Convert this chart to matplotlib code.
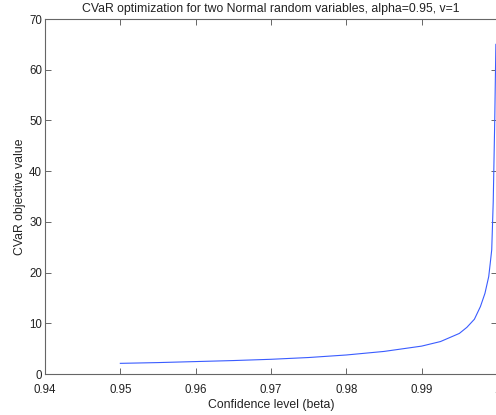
import numpy as np
import matplotlib
matplotlib.use("Agg")
import matplotlib.pyplot as plt

# values
beta = [0.95, 0.955, 0.96, 0.965, 0.97, 0.975, 0.98, 0.985, 0.99, 0.9925,
        0.995, 0.996, 0.997, 0.9978, 0.9984, 0.9989, 0.9991, 0.9993,
        0.9995, 0.9997, 0.99985]
cvar = [2.1, 2.25, 2.45, 2.65, 2.9, 3.25, 3.75, 4.45, 5.5, 6.4,
        8.0, 9.2, 10.8, 13.3, 15.9, 19.2, 21.8, 24.5,
        34.0, 50.0, 65.0]
xticks = [0.94, 0.95, 0.96, 0.97, 0.98, 0.99, 1.0]
xticklabels = ["0.94", "0.95", "0.96", "0.97", "0.98", "0.99", "1"]
yticks = [0, 10, 20, 30, 40, 50, 60, 70]

plt.rcParams["font.family"] = ["Liberation Sans", "DejaVu Sans"]
plt.rcParams["font.size"] = 8.3

fig = plt.figure(figsize=(4.96, 4.15), dpi=100)
ax = fig.add_axes([45 / 496, 41 / 415, 452 / 496, 355 / 415])

ax.plot(beta, cvar, color="#3a5cff", linewidth=0.8)

ax.set_xlim(0.94, 1.0)
ax.set_ylim(0, 70)
ax.set_xticks(xticks)
ax.set_xticklabels(xticklabels)
ax.set_yticks(yticks)

axcol = "#666666"
txtcol = "#222222"
for s in ax.spines.values():
    s.set_color(axcol)
    s.set_linewidth(0.8)
ax.tick_params(direction="in", top=True, right=True, length=4, width=0.7,
               color=axcol, labelcolor=txtcol)
ax.tick_params(axis="x", pad=7)
ax.tick_params(axis="y", pad=2)

ax.set_xlabel("Confidence level (beta)", color=txtcol, fontsize=8.8, labelpad=2)
ax.set_ylabel("CVaR objective value", color=txtcol, fontsize=8.8, labelpad=2)
ax.set_title("CVaR optimization for two Normal random variables, alpha=0.95, v=1",
             color=txtcol, fontsize=8.8, pad=5)

fig.savefig("out.png", dpi=100)
